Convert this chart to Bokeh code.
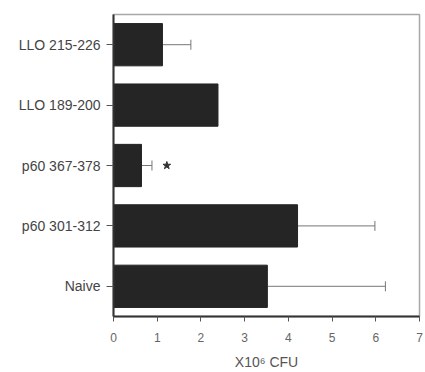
from bokeh.plotting import figure
from bokeh.models import ColumnDataSource, FactorRange, Range1d, FixedTicker, Whisker, TeeHead
from bokeh.embed import file_html
from bokeh.resources import INLINE

# Groups listed bottom to top
groups = ["Naive", "p60 301-312", "p60 367-378", "LLO 189-200", "LLO 215-226"]
cfu = [3.52, 4.21, 0.64, 2.39, 1.12]          # mean CFU (x10^6)
cfu_upper = [6.22, 5.98, 0.88, None, 1.77]    # mean + SD (one-sided error bar)
x_ticks = [0, 1, 2, 3, 4, 5, 6, 7]
star_group = "p60 367-378"
star_x = 1.22

FONT = "Liberation Sans"

p = figure(
    width=425, height=372,
    y_range=FactorRange(factors=groups, range_padding=0),
    x_range=Range1d(0, 7),
    output_backend="svg", toolbar_location=None,
    min_border_left=113, min_border_right=6, min_border_top=14, min_border_bottom=53,
)

src = ColumnDataSource(dict(group=groups, cfu=cfu))
p.hbar(y="group", right="cfu", left=0, height=0.7, source=src,
       fill_color="#252525", line_color="#252525")

# error bars only where an SD was given
eg = [g for g, u in zip(groups, cfu_upper) if u is not None]
el = [c for c, u in zip(cfu, cfu_upper) if u is not None]
eu = [u for u in cfu_upper if u is not None]
esrc = ColumnDataSource(dict(group=eg, lower=el, upper=eu))
p.add_layout(Whisker(base="group", lower="lower", upper="upper", dimension="width",
                     source=esrc, line_color="#777777", line_width=1,
                     lower_head=None,
                     upper_head=TeeHead(size=10, line_color="#777777", line_width=1)))

# significance marker
p.scatter(x=[star_x], y=[star_group], marker="star", size=8,
          fill_color="#333333", line_color="#333333")

p.grid.visible = False
p.background_fill_color = "white"
p.border_fill_color = "white"
p.outline_line_color = "#a8a8a8"
p.outline_line_width = 1.5

xa = p.xaxis[0]
xa.ticker = FixedTicker(ticks=x_ticks)
xa.axis_label = "X10\u2076 CFU"
xa.axis_label_text_font = FONT
xa.axis_label_text_font_size = "14px"
xa.axis_label_text_font_style = "normal"
xa.axis_label_text_color = "#555555"
xa.axis_label_standoff = 9
xa.major_label_text_font = FONT
xa.major_label_text_font_size = "12px"
xa.major_label_text_color = "#666666"
xa.major_label_standoff = 11
xa.major_tick_in = 0
xa.major_tick_out = 5
xa.minor_tick_in = 0
xa.minor_tick_out = 0
xa.axis_line_color = "#333333"
xa.axis_line_width = 2
xa.major_tick_line_color = "#555555"

ya = p.yaxis[0]
ya.major_label_text_font = FONT
ya.major_label_text_font_size = "14px"
ya.major_label_text_color = "#444444"
ya.major_label_standoff = 6
ya.major_tick_in = 0
ya.major_tick_out = 7
ya.axis_line_color = "#333333"
ya.axis_line_width = 2
ya.major_tick_line_color = "#555555"

open("out.html", "w").write(file_html(p, INLINE))
